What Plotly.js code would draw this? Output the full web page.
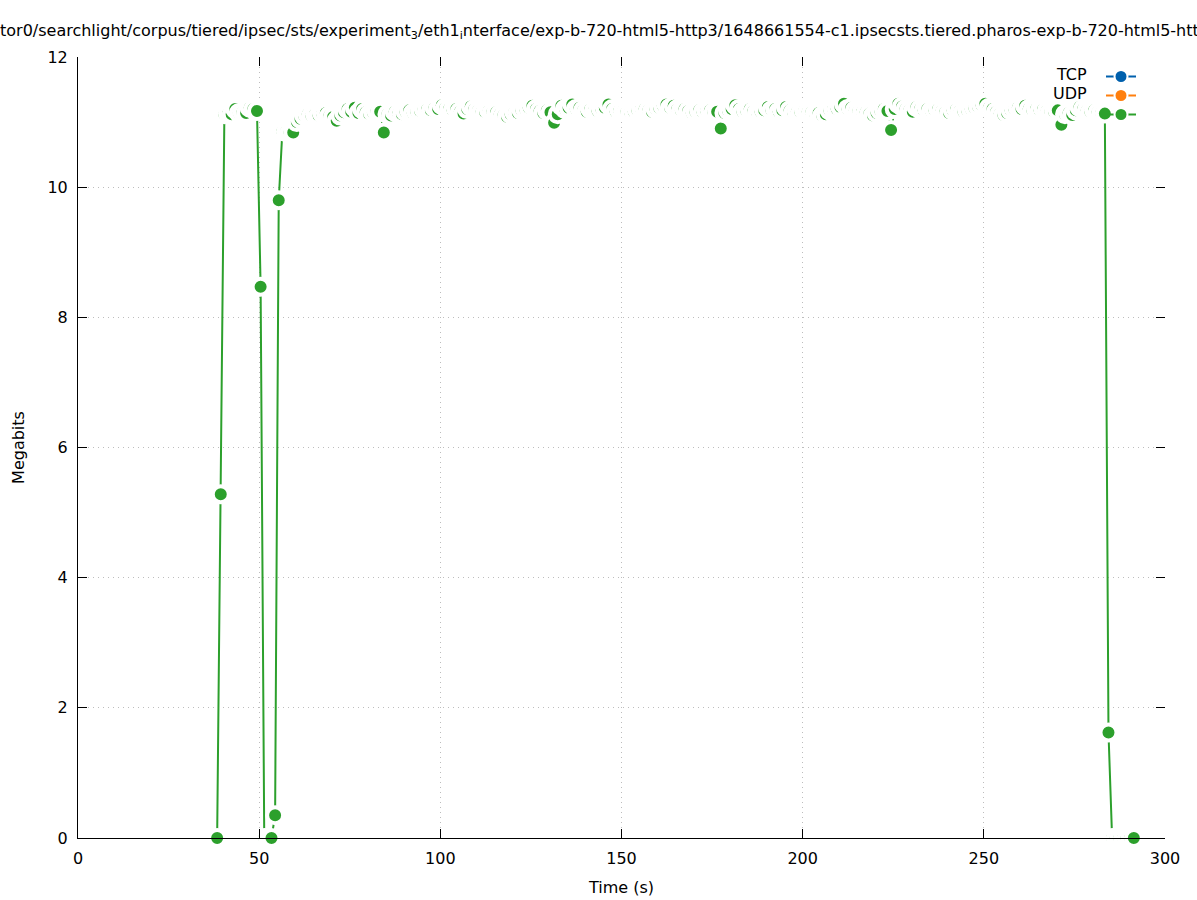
<!DOCTYPE html>
<html>
<head>
<meta charset="utf-8">
<script src="https://cdn.plot.ly/plotly-3.0.1.min.js"></script>
<style>html,body{margin:0;padding:0;background:#fff;}#chart{width:1197px;height:900px;}</style>
</head>
<body>
<div id="chart"></div>
<script>
// Legend entries
const seriesNames = ["TCP", "UDP", ""];
const seriesColors = ["#0060ad", "#ff7f0e", "#2ca02c"];

// Time (s) of each sample of the third (green) series
const timeSec = [
  38.4, 39.4, 40.4, 41.4, 42.4, 43.4, 44.4, 45.4, 46.4, 47.4,
  48.4, 49.4, 50.4, 51.4, 52.4, 53.4, 54.4, 55.4, 56.4, 57.4,
  58.4, 59.4, 60.4, 61.4, 62.4, 63.4, 64.4, 65.4, 66.4, 67.4,
  68.4, 69.4, 70.4, 71.4, 72.4, 73.4, 74.4, 75.4, 76.4, 77.4,
  78.4, 79.4, 80.4, 81.4, 82.4, 83.4, 84.4, 85.4, 86.4, 87.4,
  88.4, 89.4, 90.4, 91.4, 92.4, 93.4, 94.4, 95.4, 96.4, 97.4,
  98.4, 99.4, 100.4, 101.4, 102.4, 103.4, 104.4, 105.4, 106.4, 107.4,
  108.4, 109.4, 110.4, 111.4, 112.4, 113.4, 114.4, 115.4, 116.4, 117.4,
  118.4, 119.4, 120.4, 121.4, 122.4, 123.4, 124.4, 125.4, 126.4, 127.4,
  128.4, 129.4, 130.4, 131.4, 132.4, 133.4, 134.4, 135.4, 136.4, 137.4,
  138.4, 139.4, 140.4, 141.4, 142.4, 143.4, 144.4, 145.4, 146.4, 147.4,
  148.4, 149.4, 150.4, 151.4, 152.4, 153.4, 154.4, 155.4, 156.4, 157.4,
  158.4, 159.4, 160.4, 161.4, 162.4, 163.4, 164.4, 165.4, 166.4, 167.4,
  168.4, 169.4, 170.4, 171.4, 172.4, 173.4, 174.4, 175.4, 176.4, 177.4,
  178.4, 179.4, 180.4, 181.4, 182.4, 183.4, 184.4, 185.4, 186.4, 187.4,
  188.4, 189.4, 190.4, 191.4, 192.4, 193.4, 194.4, 195.4, 196.4, 197.4,
  198.4, 199.4, 200.4, 201.4, 202.4, 203.4, 204.4, 205.4, 206.4, 207.4,
  208.4, 209.4, 210.4, 211.4, 212.4, 213.4, 214.4, 215.4, 216.4, 217.4,
  218.4, 219.4, 220.4, 221.4, 222.4, 223.4, 224.4, 225.4, 226.4, 227.4,
  228.4, 229.4, 230.4, 231.4, 232.4, 233.4, 234.4, 235.4, 236.4, 237.4,
  238.4, 239.4, 240.4, 241.4, 242.4, 243.4, 244.4, 245.4, 246.4, 247.4,
  248.4, 249.4, 250.4, 251.4, 252.4, 253.4, 254.4, 255.4, 256.4, 257.4,
  258.4, 259.4, 260.4, 261.4, 262.4, 263.4, 264.4, 265.4, 266.4, 267.4,
  268.4, 269.4, 270.4, 271.4, 272.4, 273.4, 274.4, 275.4, 276.4, 277.4,
  278.4, 279.4, 280.4, 281.4, 282.4, 283.4, 284.4, 285.4, 286.4, 287.4,
  288.4, 289.4, 290.4, 291.4
];

// Megabits of each sample of the green series
const megabits = [
  0, 5.28, 11.12, 11.13, 11.12, 11.2, 11.14, 11.15, 11.14, 11.22,
  11.2, 11.17, 8.47, 0, 0, 0, 0.35, 9.8, 10.86, 10.85,
  10.84, 10.84, 11.0, 11.05, 11.1, 11.12, 11.1, 11.12, 11.1, 11.13,
  11.14, 11.1, 11.08, 11.02, 11.1, 11.15, 11.2, 11.16, 11.22, 11.14,
  11.2, 11.15, 11.12, 11.15, 11.17, 11.16, 10.84, 11.12, 11.1, 11.16,
  11.13, 11.12, 11.16, 11.18, 11.14, 11.16, 11.17, 11.2, 11.2, 11.18,
  11.22, 11.2, 11.26, 11.22, 11.2, 11.18, 11.2, 11.16, 11.13, 11.2,
  11.24, 11.2, 11.18, 11.16, 11.15, 11.18, 11.16, 11.15, 11.12, 11.1,
  11.08, 11.12, 11.15, 11.14, 11.18, 11.2, 11.22, 11.25, 11.2, 11.17,
  11.14, 11.18, 11.15, 10.99, 11.12, 11.25, 11.2, 11.22, 11.27, 11.2,
  11.22, 11.18, 11.16, 11.2, 11.18, 11.17, 11.2, 11.22, 11.27, 11.2,
  11.16, 11.18, 11.17, 11.16, 11.15, 11.16, 11.18, 11.2, 11.2, 11.18,
  11.16, 11.2, 11.22, 11.25, 11.27, 11.22, 11.25, 11.2, 11.18, 11.2,
  11.17, 11.14, 11.16, 11.18, 11.15, 11.17, 11.18, 11.15, 11.16, 10.9,
  11.14, 11.18, 11.2, 11.26, 11.2, 11.16, 11.18, 11.2, 11.17, 11.15,
  11.16, 11.18, 11.23, 11.18, 11.2, 11.16, 11.18, 11.23, 11.18, 11.15,
  11.16, 11.15, 11.17, 11.16, 11.15, 11.13, 11.14, 11.1, 11.12, 11.18,
  11.2, 11.2, 11.23, 11.28, 11.2, 11.22, 11.18, 11.17, 11.16, 11.15,
  11.13, 11.1, 11.14, 11.18, 11.2, 11.17, 10.88, 11.2, 11.28, 11.24,
  11.2, 11.18, 11.16, 11.23, 11.2, 11.18, 11.2, 11.17, 11.18, 11.2,
  11.18, 11.16, 11.14, 11.18, 11.2, 11.18, 11.16, 11.18, 11.2, 11.22,
  11.24, 11.26, 11.28, 11.22, 11.2, 11.16, 11.13, 11.11, 11.14, 11.18,
  11.2, 11.22, 11.2, 11.25, 11.2, 11.18, 11.2, 11.18, 11.2, 11.18,
  11.16, 11.16, 11.18, 10.96, 11.12, 11.14, 11.11, 11.18, 11.23, 11.2,
  11.18, 11.16, 11.18, 11.15, 11.14, 11.13, 1.62, 0, 0, 0,
  0, 0, 0, 0
];

const xTicks = [0, 50, 100, 150, 200, 250, 300];
const yTicks = [0, 2, 4, 6, 8, 10, 12];

const titleText = "tor0/searchlight/corpus/tiered/ipsec/sts/experiment<sub>3</sub>/eth1<sub>i</sub>nterface/exp-b-720-html5-http3/1648661554-c1.ipsecsts.tiered.pharos-exp-b-720-html5-htt";

const FONT = "DejaVu Sans, Liberation Sans, sans-serif";
const markerStyle = (c) => ({color: c, size: 16, line: {color: "#ffffff", width: 4}});
const legendMarker = (c) => ({color: c, size: 13, line: {color: "#ffffff", width: 2}});

// legend-only sample traces (no data) + the data trace
const traces = seriesColors.map((c) => ({
  x: [null], y: [null], type: "scatter", mode: "lines+markers", name: " ",
  xaxis: "x2", yaxis: "y2", line: {color: c, width: 2}, marker: legendMarker(c)
}));
traces.push({x: timeSec, y: megabits, type: "scatter", mode: "lines+markers", name: seriesNames[2], showlegend: false,
  line: {color: seriesColors[2], width: 2}, marker: markerStyle(seriesColors[2]), cliponaxis: false});

// Legend labels drawn to the left of the samples (gnuplot style)
const plotTop = 57, plotBottom = 838, plotLeft = 78, plotRight = 1165;
const toPaperY = (py) => (plotBottom - py) / (plotBottom - plotTop);
const toPaperX = (px) => (px - plotLeft) / (plotRight - plotLeft);
const legendRowsPx = [74, 93, 112];
const annotations = seriesNames.filter(n => n).map((n, i) => ({
  text: n, xref: "paper", yref: "paper", x: toPaperX(1089), y: toPaperY(legendRowsPx[i]),
  xanchor: "right", yanchor: "middle", showarrow: false,
  font: {family: FONT, size: 16, color: "#000"}
}));

const axisCommon = {
  showline: false, zeroline: false, ticks: "inside", ticklen: 9, tickwidth: 1, tickcolor: "#000",
  showgrid: true, gridcolor: "#bdbdbd", griddash: "1px,4px", gridwidth: 1,
  tickfont: {family: FONT, size: 16, color: "#000"}
};

const layout = {
  width: 1197, height: 900,
  paper_bgcolor: "#fff", plot_bgcolor: "#fff",
  margin: {l: 78, r: 32, t: 57, b: 62, pad: 0},
  font: {family: FONT, size: 16, color: "#000"},
  title: {text: titleText, xref: "container", x: 0, xanchor: "left", yref: "container", y: 1 - 30/900, yanchor: "middle",
          pad: {l: 0, r: 0, t: 0, b: 0}, font: {family: FONT, size: 16, color: "#000"}},
  xaxis: Object.assign({}, axisCommon, {range: [0, 300], tickvals: xTicks, ticktext: xTicks.map(String),
    showline: true, linecolor: "#000", linewidth: 1, ticklabelstandoff: 6,
    title: {text: "Time (s)", standoff: 14, font: {family: FONT, size: 16}}}),
  yaxis: Object.assign({}, axisCommon, {range: [0, 12], tickvals: yTicks, ticktext: yTicks.map(String),
    showline: true, linecolor: "#000", linewidth: 1, ticklabelstandoff: 6,
    title: {text: "Megabits", standoff: 18, font: {family: FONT, size: 16}}}),
  xaxis2: {range: [0, 300], overlaying: "x", side: "top", anchor: "y", tickvals: xTicks, ticks: "inside", ticklen: 9,
    tickcolor: "#000", showticklabels: false, showgrid: false, zeroline: false, showline: false},
  yaxis2: {range: [0, 12], overlaying: "y", side: "right", anchor: "x", tickvals: yTicks, ticks: "inside", ticklen: 9,
    tickcolor: "#000", showticklabels: false, showgrid: false, zeroline: false, showline: false},
  annotations: annotations,
  showlegend: true,
  legend: {x: toPaperX(1101), xanchor: "left", y: toPaperY(62), yanchor: "top", bgcolor: "rgba(0,0,0,0)", borderwidth: 0,
    font: {family: FONT, size: 12, color: "#000"}, traceorder: "normal", tracegroupgap: 0}
};

Plotly.newPlot("chart", traces, layout, {displayModeBar: false, staticPlot: true});
</script>
</body>
</html>
